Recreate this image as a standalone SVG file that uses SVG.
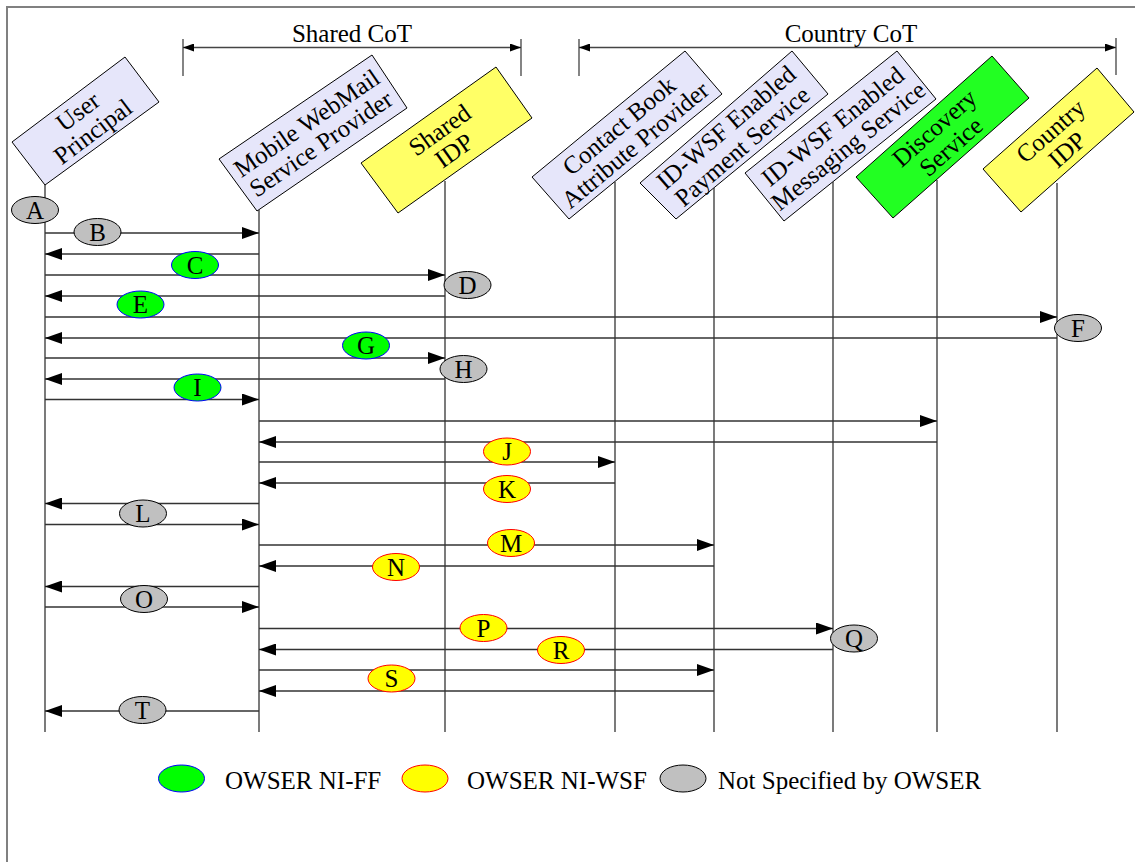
<svg xmlns="http://www.w3.org/2000/svg" width="1135" height="862" viewBox="0 0 1135 862">
<style>
text{font-family:"Liberation Serif","Times New Roman",serif;font-size:25px;fill:#000}
.c{text-anchor:middle}
.box{stroke:#000;stroke-width:1}
.lav{fill:#e6e6fa}
.yel{fill:#ffff66}
.grn{fill:#22ff22}
.life{stroke:#333;stroke-width:1.3;fill:none}
.msg{stroke:#333;stroke-width:1.3;fill:none;marker-end:url(#ah)}
.cot{stroke:#444;stroke-width:1.3;fill:none}
.eg{fill:#00ff00;stroke:#0000ff;stroke-width:1}
.ey{fill:#ffff00;stroke:#ff0000;stroke-width:1}
.ea{fill:#c0c0c0;stroke:#000;stroke-width:1}
</style>
<defs>
<marker id="ah" markerUnits="userSpaceOnUse" markerWidth="18" markerHeight="12" refX="17" refY="6" orient="auto">
<path d="M0,0 L17,6 L0,12 z" fill="#000"/>
</marker>
<marker id="sa" markerUnits="userSpaceOnUse" markerWidth="12" markerHeight="8" refX="11" refY="4" orient="auto-start-reverse">
<path d="M0,0 L11,4 L0,8 z" fill="#000"/>
</marker>
</defs>
<rect x="0" y="0" width="1135" height="862" fill="#fff"/>
<g id="frame">
<path d="M7,862 V7 H1135" fill="none" stroke="#808080" stroke-width="2"/>
</g>
<g id="shared-cot">
<path class="cot" d="M183,39 V76 M521,39 V76"/>
<path class="cot" d="M183,47.5 H521" marker-start="url(#sa)" marker-end="url(#sa)"/>
<text class="c" x="352" y="42">Shared CoT</text>
</g>
<g id="country-cot">
<path class="cot" d="M579,39 V76 M1116,38 V75"/>
<path class="cot" d="M579,47.5 H1116" marker-start="url(#sa)" marker-end="url(#sa)"/>
<text class="c" x="851" y="42">Country CoT</text>
</g>
<g id="user">
<line class="life" x1="45" y1="185" x2="45" y2="732"/>
<polygon class="box lav" points="12,142 125,57 159,102 45,185"/>
<g transform="translate(85.25,121.5) rotate(-37)"><text class="c" y="-4">User</text><text class="c" y="21">Principal</text></g>
</g>
<g id="webmail">
<line class="life" x1="259" y1="210" x2="259" y2="732"/>
<polygon class="box lav" points="219,159 372,55 407,108 257,211"/>
<g transform="translate(313.75,133.25) rotate(-34.5)"><text class="c" y="-4">Mobile WebMail</text><text class="c" y="21">Service Provider</text></g>
</g>
<g id="shared-idp">
<line class="life" x1="445" y1="181" x2="445" y2="732"/>
<polygon class="box yel" points="361,163 496,67 532,118 398,213"/>
<g transform="translate(446.75,140.25) rotate(-35.4)"><text class="c" y="-4">Shared</text><text class="c" y="21">IDP</text></g>
</g>
<g id="contact-book">
<line class="life" x1="615" y1="182" x2="615" y2="732"/>
<polygon class="box lav" points="532,177 685,51 722,94 569,219"/>
<g transform="translate(627,135.25) rotate(-39.8)"><text class="c" y="-4">Contact Book</text><text class="c" y="21">Attribute Provider</text></g>
</g>
<g id="payment">
<line class="life" x1="714" y1="188" x2="714" y2="732"/>
<polygon class="box lav" points="640,183 792,51 828,94 676,219"/>
<g transform="translate(734,136.75) rotate(-40.8)"><text class="c" y="-4">ID-WSF Enabled</text><text class="c" y="21">Payment Service</text></g>
</g>
<g id="messaging">
<line class="life" x1="833" y1="182" x2="833" y2="732"/>
<polygon class="box lav" points="745,173 897,51 936,99 784,221"/>
<g transform="translate(840.5,136) rotate(-38.8)"><text class="c" y="-4">ID-WSF Enabled</text><text class="c" y="21">Messaging Service</text></g>
</g>
<g id="discovery">
<line class="life" x1="937" y1="180" x2="937" y2="732"/>
<polygon class="box grn" points="856,177 992,56 1029,98 893,218"/>
<g transform="translate(942.5,137.25) rotate(-41.6)"><text class="c" y="-4">Discovery</text><text class="c" y="21">Service</text></g>
</g>
<g id="country-idp">
<line class="life" x1="1057" y1="183" x2="1057" y2="732"/>
<polygon class="box yel" points="983,169 1097,68 1134,112 1021,212"/>
<g transform="translate(1058.75,140.25) rotate(-41.3)"><text class="c" y="-4">Country</text><text class="c" y="21">IDP</text></g>
</g>
<g id="connectors">
<line class="msg" x1="45" y1="233" x2="259" y2="233"/>
<line class="msg" x1="259" y1="254" x2="45" y2="254"/>
<line class="msg" x1="45" y1="275" x2="445" y2="275"/>
<line class="msg" x1="445" y1="296" x2="45" y2="296"/>
<line class="msg" x1="45" y1="317" x2="1057" y2="317"/>
<line class="msg" x1="1057" y1="338" x2="45" y2="338"/>
<line class="msg" x1="45" y1="358" x2="445" y2="358"/>
<line class="msg" x1="445" y1="379" x2="45" y2="379"/>
<line class="msg" x1="45" y1="399.5" x2="259" y2="399.5"/>
<line class="msg" x1="259" y1="421" x2="937" y2="421"/>
<line class="msg" x1="937" y1="442" x2="259" y2="442"/>
<line class="msg" x1="259" y1="462" x2="615" y2="462"/>
<line class="msg" x1="615" y1="483" x2="259" y2="483"/>
<line class="msg" x1="259" y1="503.5" x2="45" y2="503.5"/>
<line class="msg" x1="45" y1="524.5" x2="259" y2="524.5"/>
<line class="msg" x1="259" y1="545" x2="714" y2="545"/>
<line class="msg" x1="714" y1="566" x2="259" y2="566"/>
<line class="msg" x1="259" y1="586.5" x2="45" y2="586.5"/>
<line class="msg" x1="45" y1="607" x2="259" y2="607"/>
<line class="msg" x1="259" y1="628.5" x2="833" y2="628.5"/>
<line class="msg" x1="833" y1="649.5" x2="259" y2="649.5"/>
<line class="msg" x1="259" y1="670" x2="714" y2="670"/>
<line class="msg" x1="714" y1="691" x2="259" y2="691"/>
<line class="msg" x1="259" y1="711" x2="45" y2="711"/>
</g>
<g id="labels">
<ellipse class="ea" cx="35" cy="210" rx="23.5" ry="13.5"/><text class="c" x="35" y="218.5">A</text>
<ellipse class="ea" cx="97.5" cy="232" rx="23.5" ry="13.5"/><text class="c" x="97.5" y="240.5">B</text>
<ellipse class="eg" cx="195" cy="265" rx="23.5" ry="13.5"/><text class="c" x="195" y="273.5">C</text>
<ellipse class="ea" cx="467.5" cy="285" rx="23.5" ry="13.5"/><text class="c" x="467.5" y="293.5">D</text>
<ellipse class="eg" cx="140.5" cy="304.5" rx="23.5" ry="13.5"/><text class="c" x="140.5" y="313">E</text>
<ellipse class="ea" cx="1078" cy="328" rx="23.5" ry="13.5"/><text class="c" x="1078" y="336.5">F</text>
<ellipse class="eg" cx="366" cy="345.5" rx="23.5" ry="13.5"/><text class="c" x="366" y="354">G</text>
<ellipse class="ea" cx="463.5" cy="369" rx="23.5" ry="13.5"/><text class="c" x="463.5" y="377.5">H</text>
<ellipse class="eg" cx="197.5" cy="387.5" rx="23.5" ry="13.5"/><text class="c" x="197.5" y="396">I</text>
<ellipse class="ey" cx="507" cy="451.5" rx="23.5" ry="13.5"/><text class="c" x="507" y="460">J</text>
<ellipse class="ey" cx="507" cy="489" rx="23.5" ry="13.5"/><text class="c" x="507" y="497.5">K</text>
<ellipse class="ea" cx="143" cy="513.5" rx="23.5" ry="13.5"/><text class="c" x="143" y="522">L</text>
<ellipse class="ey" cx="511" cy="543" rx="23.5" ry="13.5"/><text class="c" x="511" y="551.5">M</text>
<ellipse class="ey" cx="396" cy="567" rx="23.5" ry="13.5"/><text class="c" x="396" y="575.5">N</text>
<ellipse class="ea" cx="144" cy="599" rx="23.5" ry="13.5"/><text class="c" x="144" y="607.5">O</text>
<ellipse class="ey" cx="483.5" cy="628" rx="23.5" ry="13.5"/><text class="c" x="483.5" y="636.5">P</text>
<ellipse class="ea" cx="854" cy="638.5" rx="23.5" ry="13.5"/><text class="c" x="854" y="647">Q</text>
<ellipse class="ey" cx="561" cy="650" rx="23.5" ry="13.5"/><text class="c" x="561" y="658.5">R</text>
<ellipse class="ey" cx="391.5" cy="678.5" rx="23.5" ry="13.5"/><text class="c" x="391.5" y="687">S</text>
<ellipse class="ea" cx="142.5" cy="710" rx="23.5" ry="13.5"/><text class="c" x="142.5" y="718.5">T</text>
</g>
<g id="legend">
<ellipse class="eg" cx="181.5" cy="778.5" rx="23" ry="13.5"/>
<text x="225" y="789">OWSER NI-FF</text>
<ellipse class="ey" cx="425" cy="778.5" rx="23" ry="13.5"/>
<text x="467" y="789">OWSER NI-WSF</text>
<ellipse class="ea" cx="683" cy="778.5" rx="23" ry="13.5"/>
<text x="718" y="789">Not Specified by OWSER</text>
</g>
</svg>
